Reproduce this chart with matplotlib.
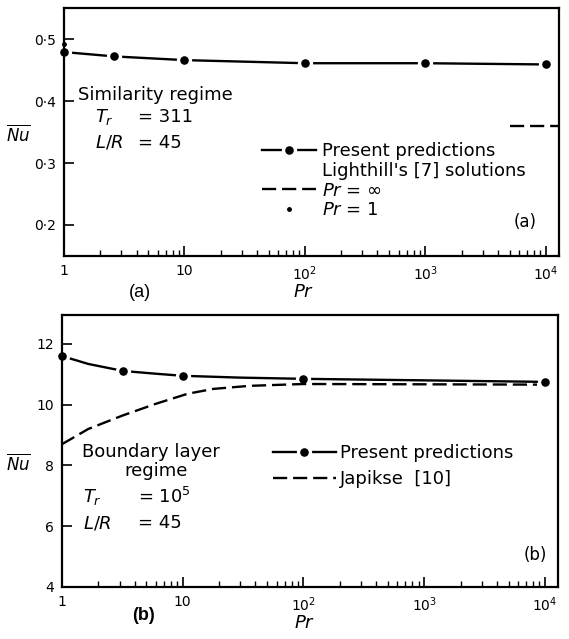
import numpy as np
import matplotlib
matplotlib.use("Agg")
import matplotlib.pyplot as plt
from matplotlib.lines import Line2D

plt.rcParams["font.family"] = ["DejaVu Sans"]
plt.rcParams["mathtext.fontset"] = "dejavusans"

# ---- panel (a): similarity regime ----
pr_a = [1, 2.6, 10, 100, 1000, 10000]
nu_a = [0.479, 0.472, 0.466, 0.461, 0.461, 0.459]
light_inf_pr = [5000, 12900]
light_inf_nu = [0.36, 0.36]
light_one_pr = [1]
light_one_nu = [0.492]

# ---- panel (b): boundary layer regime ----
pr_b_pts = [1, 3.2, 10, 100, 10000]
nu_b_pts = [11.6, 11.11, 10.95, 10.85, 10.75]
pr_b_curve = [1, 1.65, 3.2, 5.9, 10, 30, 100, 1000, 10000]
nu_b_curve = [11.6, 11.34, 11.11, 11.02, 10.95, 10.89, 10.85, 10.8, 10.75]
pr_jap = [1, 1.65, 3.16, 6, 11, 18, 36, 100, 1000, 8600]
nu_jap = [8.7, 9.2, 9.64, 10.03, 10.36, 10.52, 10.62, 10.68, 10.67, 10.66]

x_ticks = [1, 10, 100, 1000, 10000]
x_labels = ["1", "10", "$10^2$", "$10^3$", "$10^4$"]

FS = 13
DASH = (0, (6, 2.5))
mk = dict(marker="o", markersize=8.6, markerfacecolor="black",
          markeredgecolor="white", markeredgewidth=2.4)


def style_axes(ax, yticks, ylabels, ylim):
    ax.set_xscale("log")
    ax.set_xlim(1, 10 ** 4.11)
    ax.set_ylim(*ylim)
    ax.set_xticks(x_ticks)
    ax.set_xticklabels(x_labels, fontsize=10)
    ax.set_yticks(yticks)
    ax.set_yticklabels(ylabels, fontsize=10)
    ax.tick_params(axis="both", which="major", direction="in", length=7, width=1.2,
                   top=False, right=False, pad=6)
    ax.tick_params(axis="x", which="minor", direction="in", length=4, width=1.0,
                   top=False)
    ax.yaxis.set_minor_locator(matplotlib.ticker.NullLocator())
    for s in ax.spines.values():
        s.set_linewidth(1.6)


fig = plt.figure(figsize=(5.69, 6.39), dpi=100)
ax1 = fig.add_axes([0.1125, 0.5994, 0.870, 0.388])
ax2 = fig.add_axes([0.109, 0.0814, 0.872, 0.4256])

# panel (a)
ax1.plot(pr_a, nu_a, color="black", linewidth=1.7, clip_on=False, **mk)
ax1.plot(light_inf_pr, light_inf_nu, color="black", linewidth=1.7, linestyle=DASH)
ax1.plot(light_one_pr, light_one_nu, linestyle="none", marker="o", markersize=2.5,
         color="black", clip_on=False)
style_axes(ax1, [0.2, 0.3, 0.4, 0.5], ["0·2", "0·3", "0·4", "0·5"], (0.15, 0.55))

h_pres = Line2D([], [], color="black", linewidth=1.7, **mk)
h_none = Line2D([], [], linestyle="none")
h_dash = Line2D([], [], color="black", linewidth=1.7, linestyle=DASH)
h_dot = Line2D([], [], linestyle="none", marker="o", markersize=2.5, color="black")
ax1.legend([h_pres, h_none, h_dash, h_dot],
           ["Present predictions", "Lighthill's [7] solutions", "$Pr$ = ∞", "$Pr$ = 1"],
           loc="upper left", bbox_to_anchor=(0.40, 0.46), frameon=False,
           fontsize=FS, handlelength=3.0, handletextpad=0.3, labelspacing=0.1,
           borderpad=0, borderaxespad=0)

ax1.text(0.028, 0.649, "Similarity regime", transform=ax1.transAxes, fontsize=FS, va="center")
ax1.text(0.063, 0.56, "$T_r$", transform=ax1.transAxes, fontsize=FS, va="center")
ax1.text(0.15, 0.56, "= 311", transform=ax1.transAxes, fontsize=FS, va="center")
ax1.text(0.063, 0.456, "$L/R$", transform=ax1.transAxes, fontsize=FS, va="center")
ax1.text(0.15, 0.456, "= 45", transform=ax1.transAxes, fontsize=FS, va="center")
ax1.text(0.931, 0.137, "(a)", transform=ax1.transAxes, fontsize=12, ha="center", va="center")

# panel (b)
ax2.plot(pr_b_curve, nu_b_curve, color="black", linewidth=1.7, clip_on=False)
ax2.plot(pr_b_pts, nu_b_pts, linestyle="none", clip_on=False, **mk)
ax2.plot(pr_jap, nu_jap, color="black", linewidth=1.7, linestyle=DASH, clip_on=False)
style_axes(ax2, [4, 6, 8, 10, 12], ["4", "6", "8", "10", "12"], (4, 12.95))

ax2.legend([h_pres, h_dash], ["Present predictions", "Japikse  [10]"],
           loc="upper left", bbox_to_anchor=(0.425, 0.525), frameon=False,
           fontsize=FS, handlelength=3.5, handletextpad=0.2, labelspacing=0.45,
           borderpad=0, borderaxespad=0)

ax2.text(0.040, 0.496, "Boundary layer", transform=ax2.transAxes, fontsize=FS, va="center")
ax2.text(0.19, 0.426, "regime", transform=ax2.transAxes, fontsize=FS, va="center", ha="center")
ax2.text(0.042, 0.331, "$T_r$", transform=ax2.transAxes, fontsize=FS, va="center")
ax2.text(0.153, 0.331, "= $10^5$", transform=ax2.transAxes, fontsize=FS, va="center")
ax2.text(0.042, 0.235, "$L/R$", transform=ax2.transAxes, fontsize=FS, va="center")
ax2.text(0.153, 0.235, "= 45", transform=ax2.transAxes, fontsize=FS, va="center")
ax2.text(0.954, 0.118, "(b)", transform=ax2.transAxes, fontsize=12, ha="center", va="center")

# figure-level labels
fig.text(0.032, 0.789, r"$\overline{Nu}$", fontsize=12, ha="center", va="center")
fig.text(0.032, 0.275, r"$\overline{Nu}$", fontsize=12, ha="center", va="center")
fig.text(0.533, 0.543, "$Pr$", fontsize=FS, ha="center", va="center")
fig.text(0.536, 0.025, "$Pr$", fontsize=FS, ha="center", va="center")
fig.text(0.246, 0.543, "(a)", fontsize=13, family="Liberation Sans", ha="center", va="center")
fig.text(0.253, 0.036, "(b)", fontsize=13, family="Liberation Sans", fontweight="bold",
         ha="center", va="center")

fig.savefig("out.png", dpi=100)
